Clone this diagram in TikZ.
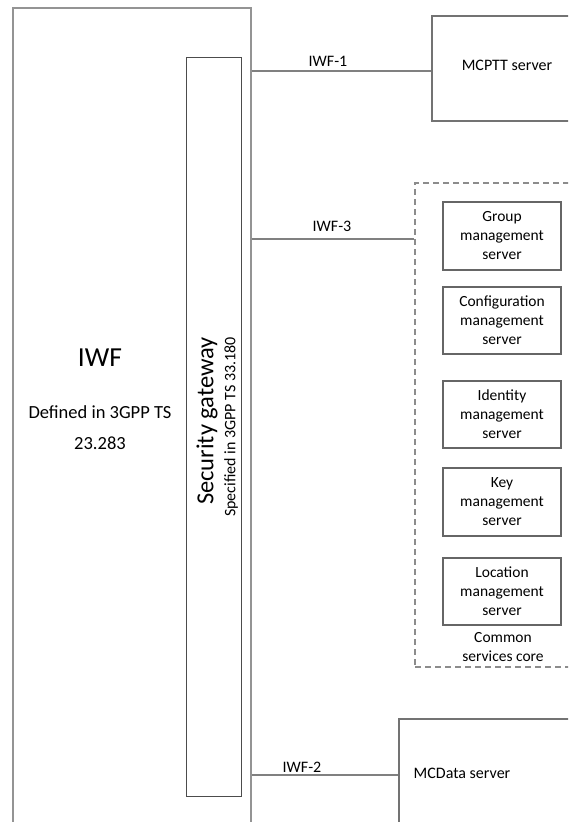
\documentclass[tikz,border=0pt]{standalone}
\usepackage{fontspec}
\setmainfont{Carlito}
\usetikzlibrary{fit}
\begin{document}
\begin{tikzpicture}[x=1pt,y=-1pt,
  outerbox/.style={draw=black!42, line width=1.4pt, inner sep=0pt},
  gwbox/.style={draw=black!70, line width=1pt, inner sep=0pt},
  srvbox/.style={draw=black!55, line width=1.2pt, inner sep=0pt},
  subbox/.style={draw=black!60, line width=1.1pt, inner sep=0pt},
  csbox/.style={draw=black!45, line width=1.1pt, dash pattern=on 6pt off 4pt, inner sep=0pt},
  link/.style={draw=black!50, line width=1.2pt},
  lbl/.style={font=\fontsize{16}{19}\selectfont, inner sep=0pt},
  boxtxt/.style={font=\fontsize{15.5}{19}\selectfont, align=center, inner sep=0pt}]
\useasboundingbox (0,0) rectangle (568,822);
\clip (0,0) rectangle (568,822);
% main boxes
\node[outerbox, fit={(13,8) (251,840)}] (iwf) {};
\node[gwbox, fit={(186,57) (241,796)}] (sgw) {};
\node[srvbox, fit={(432,16) (590,121)}] (mcptt) {};
\node[srvbox, fit={(399,719) (590,830)}] (mcdata) {};
\node[csbox, fit={(415,183) (590,667)}] (csc) {};
% inner servers
\node[subbox, fit={(443,202) (561,270)}] (gms) {};
\node[subbox, fit={(443,287) (561,354)}] (cms) {};
\node[subbox, fit={(443,381) (561,448)}] (ims) {};
\node[subbox, fit={(443,468) (561,536)}] (kms) {};
\node[subbox, fit={(443,558) (561,625)}] (lms) {};
\node[boxtxt] at (gms.center) {Group\\management\\server};
\node[boxtxt] at (cms.center) {Configuration\\management\\server};
\node[boxtxt] at (ims.center) {Identity\\management\\server};
\node[boxtxt] at (kms.center) {Key\\management\\server};
\node[boxtxt] at (lms.center) {Location\\management\\server};
\node[boxtxt] (csct) at (503,647) {Common\\services core};
% texts
\node[lbl] (mcpttt) at (507,65) {MCPTT server};
\node[lbl] (mcdatat) at (462,773) {MCData server};
\node[font=\fontsize{27.5}{30}\selectfont, inner sep=0pt] (iwft) at (100,358) {IWF};
\node[font=\fontsize{18.5}{31}\selectfont, align=center, inner sep=0pt] (iwfd) at (100,428) {Defined in 3GPP TS\\23.283};
\node[rotate=90, font=\fontsize{24.5}{26}\selectfont, inner sep=0pt] (sgwt) at (207,421) {Security gateway};
\node[rotate=90, font=\fontsize{16}{18}\selectfont, inner sep=0pt] (sgwd) at (231,427) {Specified in 3GPP TS 33.180};
% connectors
\coordinate (c1) at (0,71);
\coordinate (c3) at (0,239);
\coordinate (c2) at (0,775);
\draw[link] (iwf.east |- c1) -- (mcptt.west |- c1);
\draw[link] (iwf.east |- c3) -- (csc.west |- c3);
\draw[link] (iwf.east |- c2) -- (mcdata.west |- c2);
\node[lbl] at (328,61) {IWF-1};
\node[lbl] at (332,226) {IWF-3};
\node[lbl] at (302,767) {IWF-2};
\end{tikzpicture}
\end{document}
